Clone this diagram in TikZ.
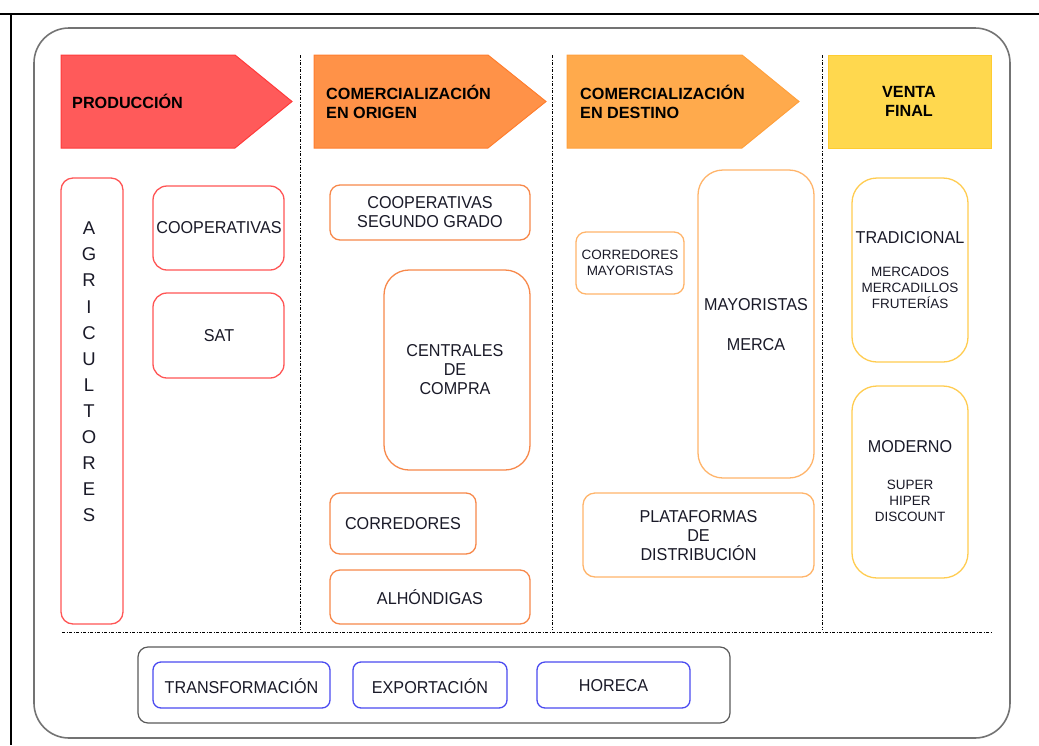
\documentclass[tikz,border=0pt]{standalone}
\usepackage{fontspec}
\setmainfont{Liberation Sans}
\newfontfamily\condfont[FakeStretch=0.94]{Liberation Sans}
\begin{document}
\begin{tikzpicture}[x=1pt,y=-1pt,
  txt/.style={text=textdark, inner sep=0pt, align=center, font=\condfont\fontsize{17.2}{19}\selectfont},
  small/.style={text=textdark, inner sep=0pt, align=center, font=\fontsize{13.5}{16}\selectfont},
  head/.style={text=black, inner sep=0pt, align=left, font=\fontsize{16.2}{19}\selectfont\bfseries},
  box/.style={draw, line width=1.3pt, rounded corners=14pt, inner sep=0pt, fill=white},
  redbox/.style={box, draw=boxred},
  orgbox/.style={box, draw=boxorg},
  dstbox/.style={box, draw=boxdst},
  vtabox/.style={box, draw=boxvta},
  bluebox/.style={box, draw=boxblue, rounded corners=8pt},
  sep/.style={line width=0.8pt, dash pattern=on 3pt off 1.5pt on 1pt off 1.5pt}]

\definecolor{textdark}{HTML}{1A1A28}
\definecolor{fillred}{HTML}{FF5A5A}
\definecolor{edgered}{HTML}{FF3A3A}
\definecolor{fillorg}{HTML}{FF9248}
\definecolor{edgeorg}{HTML}{FF7E2E}
\definecolor{filldst}{HTML}{FFAA4C}
\definecolor{edgedst}{HTML}{FFA03C}
\definecolor{fillvta}{HTML}{FFD84E}
\definecolor{edgevta}{HTML}{FFCC30}
\definecolor{boxred}{HTML}{FF5555}
\definecolor{boxorg}{HTML}{F7884A}
\definecolor{boxdst}{HTML}{FFB46A}
\definecolor{boxvta}{HTML}{FFCC50}
\definecolor{boxblue}{HTML}{4A4AF0}

\useasboundingbox (0,0) rectangle (1039,745);

% page frame and outer panel
\draw[line width=2pt] (0,14) -- (1039,14);
\draw[line width=2pt] (11,14) -- (11,745);
\draw[line width=1.6pt, draw=black!55, rounded corners=35pt] (34,28) rectangle (1010,738);

% stage headers
\draw[fill=fillred, draw=edgered, line width=1pt] (61,55) -- (235,55) -- (292,101.5) -- (235,148) -- (61,148) -- cycle;
\draw[fill=fillorg, draw=edgeorg, line width=1pt] (314,55) -- (488,55) -- (546,101.5) -- (488,148) -- (314,148) -- cycle;
\draw[fill=filldst, draw=edgedst, line width=1pt] (567,55) -- (742,55) -- (799,101.5) -- (742,148) -- (567,148) -- cycle;
\draw[fill=fillvta, draw=edgevta, line width=1pt] (828,55) rectangle (991,148);

\node[head, anchor=west] (hprod) at (72,101) {PRODUCCIÓN};
\node[head, anchor=west] (horig) at (326,101.5) {COMERCIALIZACIÓN\\EN ORIGEN};
\node[head, anchor=west] (hdest) at (580,101.5) {COMERCIALIZACIÓN\\EN DESTINO};
\node[head, align=center] (hvent) at (909,101.5) {VENTA\\FINAL};

% column separators
\draw[sep] (300,55) -- (300,630);
\draw[sep] (552,55) -- (552,630);
\draw[sep] (822,55) -- (822,630);
\draw[sep] (62,632) -- (992,632);

% production
\node[redbox, rounded corners=12pt, minimum width=62pt, minimum height=446pt] (agri) at (92,401) {};
\node[txt, font=\fontsize{18.5}{26.1}\selectfont] (agritxt) at (89,372)
  {A\\G\\R\\I\\C\\U\\L\\T\\O\\R\\E\\S};
\node[redbox, minimum width=131pt, minimum height=84pt] (coop) at (218.5,228) {};
\node[txt] (cooptxt) at (219,228) {COOPERATIVAS};
\node[redbox, minimum width=131pt, minimum height=85pt] (sat) at (218.5,335.5) {};
\node[txt] (sattxt) at (219,335.5) {SAT};

% origin trade
\node[orgbox, rounded corners=10pt, minimum width=200pt, minimum height=55pt] (coop2) at (430,212.5) {};
\node[txt] (coop2txt) at (430,212.5) {COOPERATIVAS\\SEGUNDO GRADO};
\node[orgbox, rounded corners=25pt, minimum width=146pt, minimum height=200pt] (cent) at (457,370) {};
\node[txt] (centtxt) at (455,370) {CENTRALES\\DE\\COMPRA};
\node[orgbox, rounded corners=10pt, minimum width=146pt, minimum height=61pt] (corr) at (403,523.5) {};
\node[txt] (corrtxt) at (403,524) {CORREDORES};
\node[orgbox, rounded corners=10pt, minimum width=200pt, minimum height=54pt] (alho) at (430,597) {};
\node[txt] (alhotxt) at (430,597) {ALHÓNDIGAS};

% destination trade
\node[dstbox, rounded corners=10pt, minimum width=108pt, minimum height=62pt] (cmay) at (630,263) {};
\node[small] (cmaytxt) at (630,262.5) {CORREDORES\\MAYORISTAS};
\node[dstbox, rounded corners=25pt, minimum width=116pt, minimum height=308pt] (may) at (756,324) {};
\node[txt] (maytxt) at (756,305) {MAYORISTAS};
\node[txt] (mercatxt) at (756,345) {MERCA};
\node[dstbox, rounded corners=12pt, minimum width=231pt, minimum height=84pt] (plat) at (698.5,535) {};
\node[txt] (plattxt) at (698.5,535.5) {PLATAFORMAS\\DE\\DISTRIBUCIÓN};

% final sale
\node[vtabox, rounded corners=25pt, minimum width=116pt, minimum height=184pt] (trad) at (910,270) {};
\node[txt] (tradtxt) at (910,238) {TRADICIONAL};
\node[small] (tradlist) at (910,288) {MERCADOS\\MERCADILLOS\\FRUTERÍAS};
\node[vtabox, rounded corners=25pt, minimum width=116pt, minimum height=192pt] (mod) at (910,482) {};
\node[txt] (modtxt) at (910,447) {MODERNO};
\node[small] (modlist) at (910,501) {SUPER\\HIPER\\DISCOUNT};

% other channels
\draw[line width=1.2pt, draw=black!65, rounded corners=10pt] (138,647) rectangle (730,723);
\node[bluebox, minimum width=177pt, minimum height=46pt] (transf) at (241.5,685) {};
\node[txt] (transftxt) at (241.5,686) {TRANSFORMACIÓN};
\node[bluebox, minimum width=154pt, minimum height=46pt] (expo) at (430,685) {};
\node[txt] (expotxt) at (430,686) {EXPORTACIÓN};
\node[bluebox, minimum width=153pt, minimum height=46pt] (hore) at (613.5,685) {};
\node[txt] (horetxt) at (613.5,686) {HORECA};

\end{tikzpicture}
\end{document}
